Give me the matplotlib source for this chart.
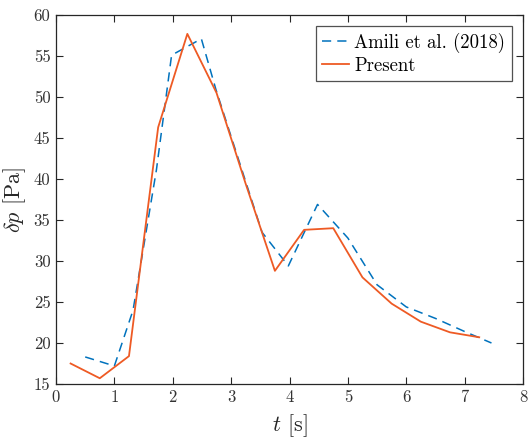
import matplotlib
matplotlib.use("Agg")
import matplotlib.pyplot as plt

# Data
amili_t = [0.5, 1.0, 1.32, 1.72, 1.98, 2.49, 2.74, 3.53, 3.98, 4.48, 5.0, 5.5, 6.0, 6.5, 7.0, 7.46]
amili_p = [18.3, 17.2, 24.0, 41.1, 55.1, 57.1, 50.9, 33.5, 29.4, 36.9, 32.8, 27.1, 24.4, 23.0, 21.4, 20.0]

present_t = [0.25, 0.75, 1.25, 1.75, 2.25, 2.75, 3.25, 3.75, 4.25, 4.75, 5.25, 5.75, 6.25, 6.75, 7.25]
present_p = [17.5, 15.7, 18.4, 46.3, 57.7, 50.5, 39.4, 28.8, 33.8, 34.0, 28.0, 24.8, 22.6, 21.3, 20.7]

xticks = [0, 1, 2, 3, 4, 5, 6, 7, 8]
yticks = [15, 20, 25, 30, 35, 40, 45, 50, 55, 60]

plt.rcParams['font.family'] = 'serif'
plt.rcParams['font.serif'] = ['cmr10', 'DejaVu Serif']
plt.rcParams['mathtext.fontset'] = 'cm'
plt.rcParams['axes.formatter.use_mathtext'] = True

fig = plt.figure(figsize=(5.29, 4.38), dpi=100)
ax = fig.add_axes([56/529, 1-384/438, (523-56)/529, (384-15)/438])

ax.plot(amili_t, amili_p, color='#0072BD', linestyle=(0, (6, 4)), linewidth=1.1,
        label='Amili et al. (2018)')
ax.plot(present_t, present_p, color='#EE5A24', linestyle='-', linewidth=1.3,
        label='Present')

ax.set_xlim(0, 8)
ax.set_ylim(15, 60)
ax.set_xticks(xticks)
ax.set_yticks(yticks)
ax.set_xticklabels([str(v) for v in xticks])
ax.set_yticklabels([str(v) for v in yticks])

gray = '#262626'
for s in ax.spines.values():
    s.set_color(gray)
    s.set_linewidth(0.9)
ax.tick_params(direction='in', top=True, right=True, length=5, width=0.8,
               colors=gray, labelsize=12, pad=4)
for lbl in ax.get_xticklabels() + ax.get_yticklabels():
    lbl.set_color('#333333')

ax.set_xlabel(r'$t$ [s]', fontsize=16, color=gray, labelpad=5)
ax.set_ylabel(r'$\delta p$ [Pa]', fontsize=16, color=gray, labelpad=4)

leg = ax.legend(loc='upper right', fontsize=13.5, frameon=True, fancybox=False,
                edgecolor=gray, handlelength=1.4, handletextpad=0.3,
                borderpad=0.35, labelspacing=0.2, borderaxespad=0.6)
leg.get_frame().set_linewidth(0.9)

fig.savefig('out.png', dpi=100)
